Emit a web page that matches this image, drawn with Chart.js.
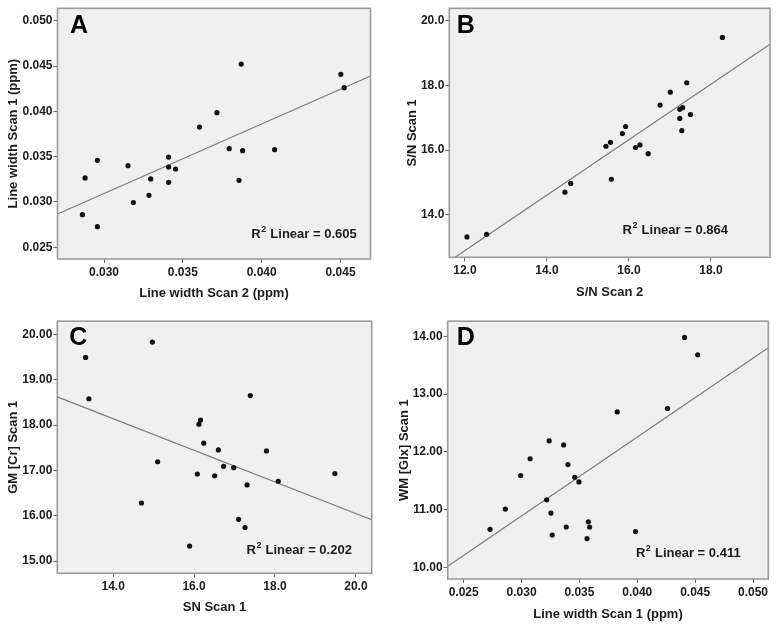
<!DOCTYPE html>
<html><head><meta charset="utf-8">
<script src="https://cdn.jsdelivr.net/npm/chart.js@4/dist/chart.umd.min.js"></script>
<style>
html,body{margin:0;padding:0;background:#fff;}
.panel{position:absolute;}
</style></head><body>
<div class="panel" style="left:0px;top:0px"><canvas id="cA" width="390" height="313"></canvas></div>
<div class="panel" style="left:390px;top:0px"><canvas id="cB" width="389" height="313"></canvas></div>
<div class="panel" style="left:0px;top:313px"><canvas id="cC" width="390" height="313"></canvas></div>
<div class="panel" style="left:390px;top:313px"><canvas id="cD" width="389" height="313"></canvas></div>
<script>
// ---- Panel A: Line width Scan 2 vs Scan 1 ----
const aX = [0.02863, 0.0288, 0.02958, 0.02958, 0.03152, 0.03186, 0.03296, 0.03285, 0.0341, 0.0341, 0.0341, 0.03454, 0.03606, 0.03716, 0.0387, 0.03794, 0.03879, 0.03856, 0.04082, 0.04502, 0.04523];
const aY = [0.0286, 0.03265, 0.0346, 0.02728, 0.03401, 0.02993, 0.03254, 0.03074, 0.03496, 0.03386, 0.03217, 0.03364, 0.03827, 0.03985, 0.04522, 0.03588, 0.03566, 0.03239, 0.03577, 0.04408, 0.04261];
const aFitX = [0.02705, 0.0469];
const aFitY = [0.02868, 0.0439];
const aXTicks = [0.030, 0.035, 0.040, 0.045];
const aYTicks = [0.025, 0.030, 0.035, 0.040, 0.045, 0.050];
const aR2 = "0.605";

// ---- Panel B: S/N Scan 2 vs Scan 1 ----
const bX = [12.05, 12.53, 14.44, 14.58, 15.44, 15.55, 15.57, 15.84, 15.92, 16.16, 16.27, 16.47, 16.76, 17.01, 17.24, 17.31, 17.24, 17.29, 17.41, 17.50, 18.28];
const bY = [13.32, 13.40, 14.70, 14.97, 16.12, 16.24, 15.10, 16.51, 16.73, 16.08, 16.16, 15.89, 17.39, 17.79, 17.26, 17.31, 16.98, 16.60, 18.08, 17.10, 19.48];
const bFitX = [11.76, 19.44];
const bFitY = [12.69, 19.27];
const bXTicks = [12, 14, 16, 18];
const bYTicks = [14, 16, 18, 20];
const bR2 = "0.864";

// ---- Panel C: SN Scan 1 vs GM [Cr] Scan 1 ----
const cX = [13.32, 13.40, 14.70, 14.97, 16.12, 16.24, 15.10, 16.51, 16.73, 16.08, 16.16, 15.89, 17.39, 17.79, 17.26, 17.31, 16.98, 16.60, 18.08, 17.10, 19.48];
const cY = [19.49, 18.58, 16.28, 19.83, 18.02, 17.60, 17.19, 16.88, 17.09, 16.92, 18.11, 15.33, 18.65, 17.43, 15.74, 16.68, 17.06, 17.45, 16.76, 15.92, 16.93];
const cFitX = [12.62, 20.39];
const cFitY = [18.62, 15.91];
const cXTicks = [14, 16, 18, 20];
const cYTicks = [15, 16, 17, 18, 19, 20];
const cR2 = "0.202";

// ---- Panel D: Line width Scan 1 vs WM [Glx] Scan 1 ----
const dX = [0.0286, 0.03265, 0.0346, 0.02728, 0.03401, 0.02993, 0.03254, 0.03074, 0.03496, 0.03386, 0.03217, 0.03364, 0.03827, 0.03985, 0.04522, 0.03588, 0.03566, 0.03239, 0.03577, 0.04408, 0.04261];
const dY = [11.01, 10.56, 11.56, 10.66, 11.78, 11.59, 10.94, 11.88, 11.48, 10.70, 11.17, 12.12, 12.69, 10.62, 13.68, 10.70, 10.50, 12.19, 10.79, 13.98, 12.75];
const dFitX = [0.02362, 0.05132];
const dFitY = [10.02, 13.80];
const dXTicks = [0.025, 0.030, 0.035, 0.040, 0.045, 0.050];
const dYTicks = [10, 11, 12, 13, 14];
const dR2 = "0.411";

const FONT = "'Liberation Sans', Arial, Helvetica, sans-serif";
const TXT = '#1c1c1c';

function pts(xs, ys) { return xs.map((x, i) => ({ x: x, y: ys[i] })); }

function makePanel(id, p) {
  const framePlugin = {
    id: 'frame_' + id,
    beforeDraw(chart) {
      const { ctx, chartArea: a } = chart;
      ctx.save();
      ctx.fillStyle = '#f0f0f0';
      ctx.fillRect(a.left, a.top, a.right - a.left, a.bottom - a.top);
      ctx.restore();
    },
    afterDatasetsDraw(chart) {
      const { ctx, chartArea: a } = chart;
      ctx.save();
      ctx.strokeStyle = '#9a9a9a';
      ctx.lineWidth = 1.6;
      ctx.strokeRect(a.left, a.top, a.right - a.left, a.bottom - a.top);
      ctx.restore();
    },
    afterDraw(chart) {
      const { ctx } = chart;
      ctx.save();
      ctx.fillStyle = '#000';
      ctx.font = 'bold 25px ' + FONT;
      ctx.textBaseline = 'alphabetic';
      ctx.textAlign = 'left';
      ctx.fillText(p.letter, p.letterX, p.letterY);
      // R² Linear = ...
      ctx.fillStyle = TXT;
      const main = 'bold 13px ' + FONT, sup = 'bold 9px ' + FONT;
      ctx.font = main; const wR = ctx.measureText('R').width;
      const rest = ' Linear = ' + p.r2;
      const wRest = ctx.measureText(rest).width;
      ctx.font = sup; const w2 = ctx.measureText('2').width;
      const total = wR + w2 + 1 + wRest;
      let x = p.r2X - total / 2;
      ctx.textBaseline = 'middle';
      ctx.font = main; ctx.fillText('R', x, p.r2Y); x += wR + 0.5;
      ctx.font = sup; ctx.fillText('2', x, p.r2Y - 5); x += w2 + 0.5;
      ctx.font = main; ctx.fillText(rest, x, p.r2Y);
      ctx.restore();
    }
  };
  const tickFont = { family: FONT, size: 12, weight: 'bold' };
  const titleFont = { family: FONT, size: 13, weight: 'bold' };
  return new Chart(document.getElementById(id), {
    type: 'scatter',
    data: {
      datasets: [
        { data: pts(p.xs, p.ys), backgroundColor: '#111', borderColor: '#111', pointRadius: 2.6, pointHoverRadius: 2.6, borderWidth: 0 },
        { data: pts(p.fitX, p.fitY), showLine: true, pointRadius: 0, borderColor: '#7c7c7c', borderWidth: 1.2, fill: false }
      ]
    },
    options: {
      responsive: false, animation: false, devicePixelRatio: 1,
      events: [],
      layout: { padding: { left: 0, right: p.padRight, top: p.padTop, bottom: 0 } },
      plugins: { legend: { display: false }, tooltip: { enabled: false } },
      scales: {
        x: {
          type: 'linear', position: 'bottom', min: p.xMin, max: p.xMax,
          afterBuildTicks: s => { s.ticks = p.xTicks.map(v => ({ value: v })); },
          afterFit: s => { s.height = p.xHeight; },
          ticks: { font: tickFont, color: TXT, padding: 2, maxRotation: 0, autoSkip: false, callback: v => Number(v).toFixed(p.xDec) },
          grid: { drawOnChartArea: false, drawTicks: true, tickLength: 4, tickColor: '#666', lineWidth: 1 },
          border: { display: false },
          title: { display: true, text: p.xTitle, font: titleFont, color: TXT, padding: { top: 0, bottom: p.xTitlePad } }
        },
        y: {
          type: 'linear', position: 'left', min: p.yMin, max: p.yMax,
          afterBuildTicks: s => { s.ticks = p.yTicks.map(v => ({ value: v })); },
          afterFit: s => { s.width = p.yWidth; },
          ticks: { font: tickFont, color: TXT, padding: 1, autoSkip: false, callback: v => Number(v).toFixed(p.yDec) },
          grid: { drawOnChartArea: false, drawTicks: true, tickLength: 4, tickColor: '#666', lineWidth: 1 },
          border: { display: false },
          title: { display: true, text: p.yTitle, font: titleFont, color: TXT, padding: { top: p.yTitlePad, bottom: 0 } }
        }
      }
    },
    plugins: [framePlugin]
  });
}

makePanel('cA', {
  xs: aX, ys: aY, fitX: aFitX, fitY: aFitY, xTicks: aXTicks, yTicks: aYTicks, xDec: 3, yDec: 3,
  xMin: 0.02705, xMax: 0.0469, yMin: 0.02371, yMax: 0.05137,
  xTitle: 'Line width Scan 2 (ppm)', yTitle: 'Line width Scan 1 (ppm)',
  yWidth: 57.5, padRight: 19.5, padTop: 8.3, xHeight: 54, yTitlePad: 6, xTitlePad: 12.2,
  letter: 'A', letterX: 70, letterY: 32.7, r2: aR2, r2X: 304, r2Y: 234.3
});
makePanel('cB', {
  xs: bX, ys: bY, fitX: bFitX, fitY: bFitY, xTicks: bXTicks, yTicks: bYTicks, xDec: 1, yDec: 1,
  xMin: 11.62, xMax: 19.44, yMin: 12.69, yMax: 20.38,
  xTitle: 'S/N Scan 2', yTitle: 'S/N Scan 1',
  yWidth: 59.3, padRight: 9, padTop: 8.3, xHeight: 55.7, yTitlePad: 14.7, xTitlePad: 13.2,
  letter: 'B', letterX: 66.7, letterY: 32.7, r2: bR2, r2X: 285.3, r2Y: 230.7
});
makePanel('cC', {
  xs: cX, ys: cY, fitX: cFitX, fitY: cFitY, xTicks: cXTicks, yTicks: cYTicks, xDec: 1, yDec: 2,
  xMin: 12.62, xMax: 20.39, yMin: 14.73, yMax: 20.29,
  xTitle: 'SN Scan 1', yTitle: 'GM [Cr] Scan 1',
  yWidth: 57.3, padRight: 18.3, padTop: 7, xHeight: 52.7, yTitlePad: 6, xTitlePad: 11.2,
  letter: 'C', letterX: 69.3, letterY: 32, r2: cR2, r2X: 299.2, r2Y: 237.7
});
makePanel('cD', {
  xs: dX, ys: dY, fitX: dFitX, fitY: dFitY, xTicks: dXTicks, yTicks: dYTicks, xDec: 3, yDec: 2,
  xMin: 0.02362, xMax: 0.05132, yMin: 9.80, yMax: 14.26,
  xTitle: 'Line width Scan 1 (ppm)', yTitle: 'WM [Glx] Scan 1',
  yWidth: 57.7, padRight: 10.7, padTop: 7, xHeight: 47, yTitlePad: 6.2, xTitlePad: 4.2,
  letter: 'D', letterX: 66.7, letterY: 32, r2: dR2, r2X: 298.3, r2Y: 240.3
});
</script>
</body></html>
